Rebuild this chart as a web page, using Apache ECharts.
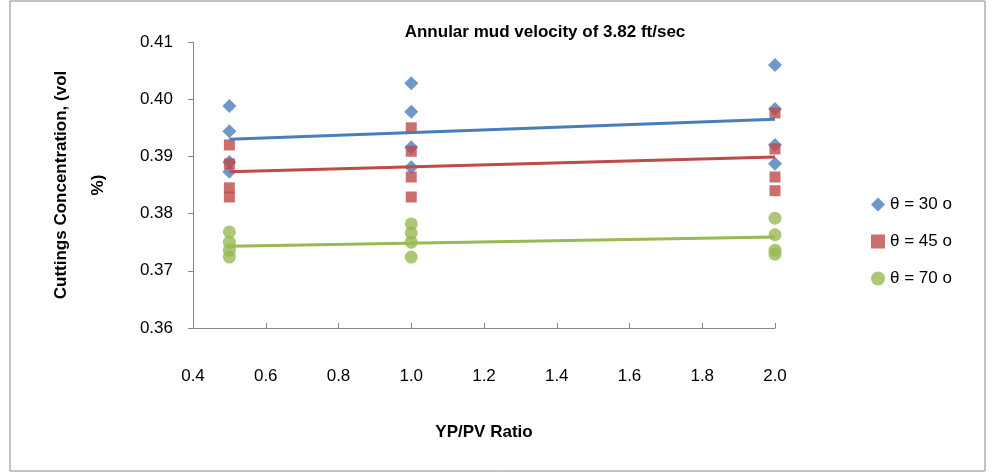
<!DOCTYPE html>
<html><head><meta charset="utf-8">
<script src="https://cdn.jsdelivr.net/npm/echarts@6/dist/echarts.min.js"></script>
<style>body{margin:0;background:#fff}#c{width:995px;height:472px}</style>
</head><body><div id="c"></div>
<script>
const xs30 = [0.5,0.5,0.5,0.5,1,1,1,1,2,2,2,2];
const y30 = [0.3988,0.3944,0.3890,0.3873,0.4028,0.3978,0.3916,0.3881,0.4060,0.3983,0.3920,0.3887];
const xs45 = [0.5,0.5,0.5,0.5,1,1,1,1,2,2,2,2];
const y45 = [0.3920,0.3887,0.3845,0.3829,0.3950,0.3909,0.3864,0.3829,0.3976,0.3913,0.3864,0.3840];
const xs70 = [0.5,0.5,0.5,0.5,1,1,1,1,2,2,2,2];
const y70 = [0.3768,0.3750,0.3736,0.3724,0.3782,0.3766,0.3750,0.3724,0.3792,0.3763,0.3736,0.3729];
const trendX = [0.5, 2.0];
const trend30 = [0.3930, 0.3965];
const trend45 = [0.3873, 0.3899];
const trend70 = [0.3743, 0.3759];
const names = ['θ = 30 o','θ = 45 o','θ = 70 o'];
const colors = ['#4a7ebb','#be4b48','#98b954'];
const zip = (a,b) => a.map((v,i)=>[v,b[i]]);
const font = 'Liberation Sans';
const chart = echarts.init(document.getElementById('c'));
const pts = [[xs30,y30,'diamond',14],[xs45,y45,'rect',11],[xs70,y70,'circle',13]];
const trends = [trend30,trend45,trend70];
const series = [];
pts.forEach((p,i)=>{
  series.push({name:names[i],type:'scatter',symbol:p[2],symbolSize:p[3],data:zip(p[0],p[1]),itemStyle:{color:colors[i]},z:2});
});
trends.forEach((t,i)=>{
  series.push({type:'line',data:zip(trendX,t),symbol:'none',lineStyle:{color:colors[i],width:3},z:3});
});
chart.setOption({
  animation:false,
  graphic:[{type:'rect',shape:{x:10,y:1,width:975,height:470},style:{fill:'none',stroke:'#888',lineWidth:1}}],
  title:{text:'Annular mud velocity of 3.82 ft/sec',left:540,top:19,textAlign:'center',textStyle:{fontFamily:font,fontSize:17,fontWeight:'bold',color:'#000'}},
  legend:{data:names.map((n,i)=>({name:n,icon:pts[i][2]})),orient:'vertical',left:866,top:191,itemGap:20,itemWidth:14,itemHeight:14,textStyle:{fontFamily:font,fontSize:17,color:'#000'}},
  grid:{left:193,right:220,top:42,bottom:144},
  xAxis:{type:'value',min:0.4,max:2.0,interval:0.2,name:'YP/PV Ratio',nameLocation:'middle',nameGap:96,
    nameTextStyle:{fontFamily:font,fontSize:17,fontWeight:'bold',color:'#000'},
    axisLine:{lineStyle:{color:'#868686'}},axisTick:{show:true,inside:true,length:5},splitLine:{show:false},
    axisLabel:{fontFamily:font,fontSize:17,color:'#000',margin:40,formatter:v=>v.toFixed(1)}},
  yAxis:{type:'value',min:0.36,max:0.41,interval:0.01,name:'Cuttings Concentration, (vol\n%)',nameLocation:'middle',nameGap:76,
    nameTextStyle:{fontFamily:font,fontSize:17,fontWeight:'bold',color:'#000',lineHeight:37},
    axisLine:{show:true,lineStyle:{color:'#868686'}},axisTick:{show:true,length:5},splitLine:{show:false},
    axisLabel:{fontFamily:font,fontSize:17,color:'#000',margin:20,formatter:v=>v.toFixed(2)}},
  series
});
</script></body></html>
